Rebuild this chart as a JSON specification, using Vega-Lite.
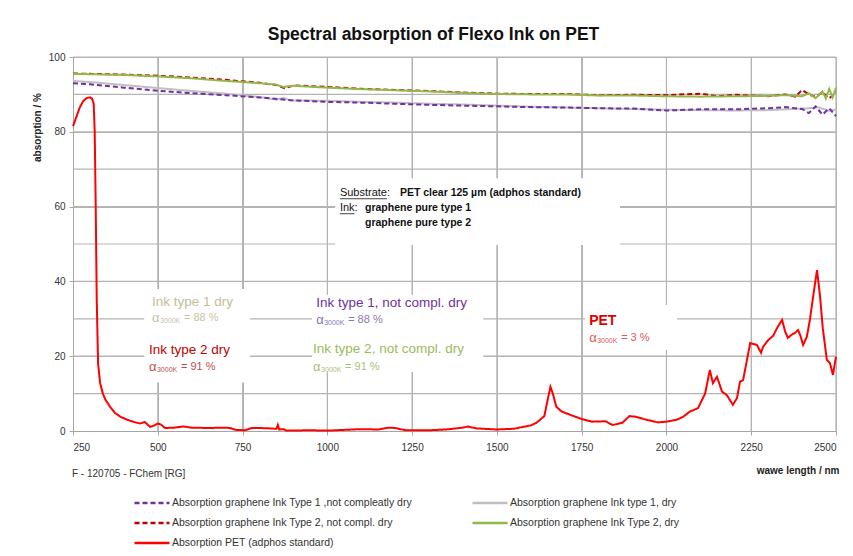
{
  "$schema": "https://vega.github.io/schema/vega-lite/v6.json",
  "width": 763,
  "height": 374,
  "autosize": {"type": "none"},
  "padding": {"left": 73, "top": 57, "right": 17, "bottom": 125},
  "background": "white",
  "title": {"text": "Spectral absorption of Flexo Ink on PET", "fontSize": 17.5, "font": "Liberation Sans", "fontWeight": "bold", "color": "#111111", "offset": 9, "anchor": "middle", "dx": -21},
  "config": {
    "font": "Liberation Sans",
    "view": {"stroke": null},
    "axis": {"grid": true, "gridColor": "#B4B4B4", "gridWidth": 1, "domainColor": "#A6A6A6", "tickColor": "#A6A6A6", "tickSize": 4, "labelFontSize": 10, "labelColor": "#333333", "labelFont": "Liberation Sans", "titleFont": "Liberation Sans", "titleFontSize": 10, "titleFontWeight": "bold", "titleColor": "#222222"}
  },
  "datasets": {
    "gx": [{"nm": 500}, {"nm": 750}, {"nm": 1000}, {"nm": 1250}, {"nm": 1500}, {"nm": 1750}, {"nm": 2000}, {"nm": 2250}, {"nm": 2500}],
    "gy": [{"v": 10}, {"v": 20}, {"v": 30}, {"v": 40}, {"v": 50}, {"v": 60}, {"v": 70}, {"v": 80}, {"v": 90}, {"v": 100}],
    "rects": [
      {"x1": 460, "x2": 772, "y1": 13, "y2": 38},
      {"x1": 955, "x2": 1460, "y1": 15.8, "y2": 36.4},
      {"x1": 1760, "x2": 2031, "y1": 21.7, "y2": 33.7},
      {"x1": 1023, "x2": 1863, "y1": 49.7, "y2": 67.6}
    ],
    "spectra": [
      {"series": "Absorption graphene Ink type 1, dry", "nm": 250, "value": 93.6},
      {"series": "Absorption graphene Ink type 1, dry", "nm": 300, "value": 93.3},
      {"series": "Absorption graphene Ink type 1, dry", "nm": 400, "value": 92.5},
      {"series": "Absorption graphene Ink type 1, dry", "nm": 500, "value": 91.7},
      {"series": "Absorption graphene Ink type 1, dry", "nm": 600, "value": 90.9},
      {"series": "Absorption graphene Ink type 1, dry", "nm": 700, "value": 90.2},
      {"series": "Absorption graphene Ink type 1, dry", "nm": 800, "value": 89.3},
      {"series": "Absorption graphene Ink type 1, dry", "nm": 850, "value": 88.6},
      {"series": "Absorption graphene Ink type 1, dry", "nm": 870, "value": 89.1},
      {"series": "Absorption graphene Ink type 1, dry", "nm": 890, "value": 88.4},
      {"series": "Absorption graphene Ink type 1, dry", "nm": 1000, "value": 88.3},
      {"series": "Absorption graphene Ink type 1, dry", "nm": 1100, "value": 88.0},
      {"series": "Absorption graphene Ink type 1, dry", "nm": 1200, "value": 87.8},
      {"series": "Absorption graphene Ink type 1, dry", "nm": 1300, "value": 87.5},
      {"series": "Absorption graphene Ink type 1, dry", "nm": 1400, "value": 87.3},
      {"series": "Absorption graphene Ink type 1, dry", "nm": 1500, "value": 87.0},
      {"series": "Absorption graphene Ink type 1, dry", "nm": 1600, "value": 86.7},
      {"series": "Absorption graphene Ink type 1, dry", "nm": 1700, "value": 86.5},
      {"series": "Absorption graphene Ink type 1, dry", "nm": 1800, "value": 86.3},
      {"series": "Absorption graphene Ink type 1, dry", "nm": 1900, "value": 86.1},
      {"series": "Absorption graphene Ink type 1, dry", "nm": 2000, "value": 85.9},
      {"series": "Absorption graphene Ink type 1, dry", "nm": 2100, "value": 85.8},
      {"series": "Absorption graphene Ink type 1, dry", "nm": 2200, "value": 85.7},
      {"series": "Absorption graphene Ink type 1, dry", "nm": 2300, "value": 85.8},
      {"series": "Absorption graphene Ink type 1, dry", "nm": 2400, "value": 86.2},
      {"series": "Absorption graphene Ink type 1, dry", "nm": 2450, "value": 86.5},
      {"series": "Absorption graphene Ink type 1, dry", "nm": 2480, "value": 85.6},
      {"series": "Absorption graphene Ink type 1, dry", "nm": 2500, "value": 86.0},

      {"series": "Absorption graphene Ink Type 1 ,not compleatly dry", "nm": 250, "value": 93.0},
      {"series": "Absorption graphene Ink Type 1 ,not compleatly dry", "nm": 300, "value": 92.7},
      {"series": "Absorption graphene Ink Type 1 ,not compleatly dry", "nm": 400, "value": 91.8},
      {"series": "Absorption graphene Ink Type 1 ,not compleatly dry", "nm": 500, "value": 91.0},
      {"series": "Absorption graphene Ink Type 1 ,not compleatly dry", "nm": 600, "value": 90.3},
      {"series": "Absorption graphene Ink Type 1 ,not compleatly dry", "nm": 700, "value": 89.8},
      {"series": "Absorption graphene Ink Type 1 ,not compleatly dry", "nm": 800, "value": 89.2},
      {"series": "Absorption graphene Ink Type 1 ,not compleatly dry", "nm": 900, "value": 88.4},
      {"series": "Absorption graphene Ink Type 1 ,not compleatly dry", "nm": 1000, "value": 88.0},
      {"series": "Absorption graphene Ink Type 1 ,not compleatly dry", "nm": 1100, "value": 87.8},
      {"series": "Absorption graphene Ink Type 1 ,not compleatly dry", "nm": 1200, "value": 87.5},
      {"series": "Absorption graphene Ink Type 1 ,not compleatly dry", "nm": 1300, "value": 87.2},
      {"series": "Absorption graphene Ink Type 1 ,not compleatly dry", "nm": 1400, "value": 87.0},
      {"series": "Absorption graphene Ink Type 1 ,not compleatly dry", "nm": 1500, "value": 86.8},
      {"series": "Absorption graphene Ink Type 1 ,not compleatly dry", "nm": 1600, "value": 86.6},
      {"series": "Absorption graphene Ink Type 1 ,not compleatly dry", "nm": 1700, "value": 86.5},
      {"series": "Absorption graphene Ink Type 1 ,not compleatly dry", "nm": 1800, "value": 86.3},
      {"series": "Absorption graphene Ink Type 1 ,not compleatly dry", "nm": 1900, "value": 86.2},
      {"series": "Absorption graphene Ink Type 1 ,not compleatly dry", "nm": 2000, "value": 85.7},
      {"series": "Absorption graphene Ink Type 1 ,not compleatly dry", "nm": 2100, "value": 86.0},
      {"series": "Absorption graphene Ink Type 1 ,not compleatly dry", "nm": 2200, "value": 86.0},
      {"series": "Absorption graphene Ink Type 1 ,not compleatly dry", "nm": 2300, "value": 86.3},
      {"series": "Absorption graphene Ink Type 1 ,not compleatly dry", "nm": 2350, "value": 86.6},
      {"series": "Absorption graphene Ink Type 1 ,not compleatly dry", "nm": 2400, "value": 86.1},
      {"series": "Absorption graphene Ink Type 1 ,not compleatly dry", "nm": 2420, "value": 85.0},
      {"series": "Absorption graphene Ink Type 1 ,not compleatly dry", "nm": 2440, "value": 86.8},
      {"series": "Absorption graphene Ink Type 1 ,not compleatly dry", "nm": 2460, "value": 84.6},
      {"series": "Absorption graphene Ink Type 1 ,not compleatly dry", "nm": 2480, "value": 86.3},
      {"series": "Absorption graphene Ink Type 1 ,not compleatly dry", "nm": 2500, "value": 84.2},

      {"series": "Absorption graphene Ink Type 2, not compl. dry", "nm": 250, "value": 95.6},
      {"series": "Absorption graphene Ink Type 2, not compl. dry", "nm": 400, "value": 95.3},
      {"series": "Absorption graphene Ink Type 2, not compl. dry", "nm": 500, "value": 95.0},
      {"series": "Absorption graphene Ink Type 2, not compl. dry", "nm": 600, "value": 94.5},
      {"series": "Absorption graphene Ink Type 2, not compl. dry", "nm": 700, "value": 93.9},
      {"series": "Absorption graphene Ink Type 2, not compl. dry", "nm": 800, "value": 93.1},
      {"series": "Absorption graphene Ink Type 2, not compl. dry", "nm": 850, "value": 92.5},
      {"series": "Absorption graphene Ink Type 2, not compl. dry", "nm": 875, "value": 91.6},
      {"series": "Absorption graphene Ink Type 2, not compl. dry", "nm": 900, "value": 92.4},
      {"series": "Absorption graphene Ink Type 2, not compl. dry", "nm": 1000, "value": 92.0},
      {"series": "Absorption graphene Ink Type 2, not compl. dry", "nm": 1100, "value": 91.5},
      {"series": "Absorption graphene Ink Type 2, not compl. dry", "nm": 1200, "value": 91.2},
      {"series": "Absorption graphene Ink Type 2, not compl. dry", "nm": 1300, "value": 90.9},
      {"series": "Absorption graphene Ink Type 2, not compl. dry", "nm": 1400, "value": 90.5},
      {"series": "Absorption graphene Ink Type 2, not compl. dry", "nm": 1500, "value": 90.2},
      {"series": "Absorption graphene Ink Type 2, not compl. dry", "nm": 1600, "value": 90.1},
      {"series": "Absorption graphene Ink Type 2, not compl. dry", "nm": 1700, "value": 90.1},
      {"series": "Absorption graphene Ink Type 2, not compl. dry", "nm": 1800, "value": 89.8},
      {"series": "Absorption graphene Ink Type 2, not compl. dry", "nm": 1900, "value": 89.9},
      {"series": "Absorption graphene Ink Type 2, not compl. dry", "nm": 2000, "value": 89.8},
      {"series": "Absorption graphene Ink Type 2, not compl. dry", "nm": 2100, "value": 90.2},
      {"series": "Absorption graphene Ink Type 2, not compl. dry", "nm": 2150, "value": 89.5},
      {"series": "Absorption graphene Ink Type 2, not compl. dry", "nm": 2200, "value": 89.9},
      {"series": "Absorption graphene Ink Type 2, not compl. dry", "nm": 2300, "value": 89.5},
      {"series": "Absorption graphene Ink Type 2, not compl. dry", "nm": 2350, "value": 90.0},
      {"series": "Absorption graphene Ink Type 2, not compl. dry", "nm": 2380, "value": 89.4},
      {"series": "Absorption graphene Ink Type 2, not compl. dry", "nm": 2400, "value": 91.2},
      {"series": "Absorption graphene Ink Type 2, not compl. dry", "nm": 2420, "value": 90.0},
      {"series": "Absorption graphene Ink Type 2, not compl. dry", "nm": 2440, "value": 89.3},
      {"series": "Absorption graphene Ink Type 2, not compl. dry", "nm": 2460, "value": 90.6},
      {"series": "Absorption graphene Ink Type 2, not compl. dry", "nm": 2480, "value": 88.9},
      {"series": "Absorption graphene Ink Type 2, not compl. dry", "nm": 2500, "value": 90.5},

      {"series": "Absorption graphene Ink Type 2, dry", "nm": 250, "value": 95.5},
      {"series": "Absorption graphene Ink Type 2, dry", "nm": 400, "value": 95.2},
      {"series": "Absorption graphene Ink Type 2, dry", "nm": 500, "value": 94.8},
      {"series": "Absorption graphene Ink Type 2, dry", "nm": 600, "value": 94.3},
      {"series": "Absorption graphene Ink Type 2, dry", "nm": 700, "value": 93.6},
      {"series": "Absorption graphene Ink Type 2, dry", "nm": 800, "value": 93.0},
      {"series": "Absorption graphene Ink Type 2, dry", "nm": 850, "value": 92.6},
      {"series": "Absorption graphene Ink Type 2, dry", "nm": 870, "value": 92.0},
      {"series": "Absorption graphene Ink Type 2, dry", "nm": 900, "value": 92.3},
      {"series": "Absorption graphene Ink Type 2, dry", "nm": 1000, "value": 91.8},
      {"series": "Absorption graphene Ink Type 2, dry", "nm": 1100, "value": 91.4},
      {"series": "Absorption graphene Ink Type 2, dry", "nm": 1200, "value": 91.1},
      {"series": "Absorption graphene Ink Type 2, dry", "nm": 1300, "value": 90.8},
      {"series": "Absorption graphene Ink Type 2, dry", "nm": 1400, "value": 90.4},
      {"series": "Absorption graphene Ink Type 2, dry", "nm": 1500, "value": 90.1},
      {"series": "Absorption graphene Ink Type 2, dry", "nm": 1600, "value": 90.0},
      {"series": "Absorption graphene Ink Type 2, dry", "nm": 1700, "value": 90.0},
      {"series": "Absorption graphene Ink Type 2, dry", "nm": 1800, "value": 89.7},
      {"series": "Absorption graphene Ink Type 2, dry", "nm": 1900, "value": 89.7},
      {"series": "Absorption graphene Ink Type 2, dry", "nm": 2000, "value": 89.5},
      {"series": "Absorption graphene Ink Type 2, dry", "nm": 2100, "value": 89.4},
      {"series": "Absorption graphene Ink Type 2, dry", "nm": 2200, "value": 89.5},
      {"series": "Absorption graphene Ink Type 2, dry", "nm": 2300, "value": 89.6},
      {"series": "Absorption graphene Ink Type 2, dry", "nm": 2350, "value": 89.8},
      {"series": "Absorption graphene Ink Type 2, dry", "nm": 2400, "value": 89.5},
      {"series": "Absorption graphene Ink Type 2, dry", "nm": 2420, "value": 90.3},
      {"series": "Absorption graphene Ink Type 2, dry", "nm": 2440, "value": 89.0},
      {"series": "Absorption graphene Ink Type 2, dry", "nm": 2460, "value": 90.8},
      {"series": "Absorption graphene Ink Type 2, dry", "nm": 2470, "value": 88.9},
      {"series": "Absorption graphene Ink Type 2, dry", "nm": 2480, "value": 91.5},
      {"series": "Absorption graphene Ink Type 2, dry", "nm": 2490, "value": 89.2},
      {"series": "Absorption graphene Ink Type 2, dry", "nm": 2500, "value": 91.8},

      {"series": "Absorption PET (adphos standard)", "nm": 250, "value": 81.5},
      {"series": "Absorption PET (adphos standard)", "nm": 260, "value": 84.0},
      {"series": "Absorption PET (adphos standard)", "nm": 270, "value": 86.5},
      {"series": "Absorption PET (adphos standard)", "nm": 280, "value": 88.2},
      {"series": "Absorption PET (adphos standard)", "nm": 290, "value": 89.0},
      {"series": "Absorption PET (adphos standard)", "nm": 300, "value": 89.2},
      {"series": "Absorption PET (adphos standard)", "nm": 306, "value": 88.9},
      {"series": "Absorption PET (adphos standard)", "nm": 311, "value": 87.5},
      {"series": "Absorption PET (adphos standard)", "nm": 314, "value": 80.0},
      {"series": "Absorption PET (adphos standard)", "nm": 317, "value": 60.0},
      {"series": "Absorption PET (adphos standard)", "nm": 320, "value": 35.0},
      {"series": "Absorption PET (adphos standard)", "nm": 324, "value": 18.0},
      {"series": "Absorption PET (adphos standard)", "nm": 330, "value": 12.8},
      {"series": "Absorption PET (adphos standard)", "nm": 338, "value": 10.0},
      {"series": "Absorption PET (adphos standard)", "nm": 345, "value": 8.5},
      {"series": "Absorption PET (adphos standard)", "nm": 359, "value": 6.5},
      {"series": "Absorption PET (adphos standard)", "nm": 374, "value": 4.8},
      {"series": "Absorption PET (adphos standard)", "nm": 390, "value": 3.8},
      {"series": "Absorption PET (adphos standard)", "nm": 410, "value": 3.0},
      {"series": "Absorption PET (adphos standard)", "nm": 430, "value": 2.4},
      {"series": "Absorption PET (adphos standard)", "nm": 447, "value": 2.0},
      {"series": "Absorption PET (adphos standard)", "nm": 462, "value": 2.4},
      {"series": "Absorption PET (adphos standard)", "nm": 477, "value": 1.1},
      {"series": "Absorption PET (adphos standard)", "nm": 490, "value": 1.5},
      {"series": "Absorption PET (adphos standard)", "nm": 500, "value": 2.0},
      {"series": "Absorption PET (adphos standard)", "nm": 510, "value": 1.7},
      {"series": "Absorption PET (adphos standard)", "nm": 521, "value": 0.8},
      {"series": "Absorption PET (adphos standard)", "nm": 550, "value": 0.9},
      {"series": "Absorption PET (adphos standard)", "nm": 575, "value": 1.2},
      {"series": "Absorption PET (adphos standard)", "nm": 600, "value": 0.9},
      {"series": "Absorption PET (adphos standard)", "nm": 650, "value": 0.8},
      {"series": "Absorption PET (adphos standard)", "nm": 700, "value": 0.9},
      {"series": "Absorption PET (adphos standard)", "nm": 713, "value": 0.8},
      {"series": "Absorption PET (adphos standard)", "nm": 730, "value": 0.3},
      {"series": "Absorption PET (adphos standard)", "nm": 757, "value": 0.2},
      {"series": "Absorption PET (adphos standard)", "nm": 777, "value": 0.8},
      {"series": "Absorption PET (adphos standard)", "nm": 800, "value": 0.8},
      {"series": "Absorption PET (adphos standard)", "nm": 830, "value": 0.7},
      {"series": "Absorption PET (adphos standard)", "nm": 850, "value": 0.6},
      {"series": "Absorption PET (adphos standard)", "nm": 854, "value": 1.6},
      {"series": "Absorption PET (adphos standard)", "nm": 858, "value": 0.4},
      {"series": "Absorption PET (adphos standard)", "nm": 870, "value": 0.5},
      {"series": "Absorption PET (adphos standard)", "nm": 880, "value": 0.1},
      {"series": "Absorption PET (adphos standard)", "nm": 950, "value": 0.2},
      {"series": "Absorption PET (adphos standard)", "nm": 1000, "value": 0.1},
      {"series": "Absorption PET (adphos standard)", "nm": 1050, "value": 0.3},
      {"series": "Absorption PET (adphos standard)", "nm": 1100, "value": 0.5},
      {"series": "Absorption PET (adphos standard)", "nm": 1150, "value": 0.4},
      {"series": "Absorption PET (adphos standard)", "nm": 1180, "value": 0.9},
      {"series": "Absorption PET (adphos standard)", "nm": 1200, "value": 0.8},
      {"series": "Absorption PET (adphos standard)", "nm": 1230, "value": 0.2},
      {"series": "Absorption PET (adphos standard)", "nm": 1300, "value": 0.2},
      {"series": "Absorption PET (adphos standard)", "nm": 1350, "value": 0.4},
      {"series": "Absorption PET (adphos standard)", "nm": 1400, "value": 0.9},
      {"series": "Absorption PET (adphos standard)", "nm": 1414, "value": 1.2},
      {"series": "Absorption PET (adphos standard)", "nm": 1440, "value": 0.7},
      {"series": "Absorption PET (adphos standard)", "nm": 1500, "value": 0.4},
      {"series": "Absorption PET (adphos standard)", "nm": 1550, "value": 0.6},
      {"series": "Absorption PET (adphos standard)", "nm": 1600, "value": 1.5},
      {"series": "Absorption PET (adphos standard)", "nm": 1617, "value": 2.2},
      {"series": "Absorption PET (adphos standard)", "nm": 1640, "value": 4.0},
      {"series": "Absorption PET (adphos standard)", "nm": 1650, "value": 8.5},
      {"series": "Absorption PET (adphos standard)", "nm": 1658, "value": 11.8},
      {"series": "Absorption PET (adphos standard)", "nm": 1665, "value": 10.0},
      {"series": "Absorption PET (adphos standard)", "nm": 1675, "value": 6.5},
      {"series": "Absorption PET (adphos standard)", "nm": 1691, "value": 5.2},
      {"series": "Absorption PET (adphos standard)", "nm": 1720, "value": 4.2},
      {"series": "Absorption PET (adphos standard)", "nm": 1750, "value": 3.2},
      {"series": "Absorption PET (adphos standard)", "nm": 1780, "value": 2.5},
      {"series": "Absorption PET (adphos standard)", "nm": 1820, "value": 2.6},
      {"series": "Absorption PET (adphos standard)", "nm": 1841, "value": 1.6},
      {"series": "Absorption PET (adphos standard)", "nm": 1870, "value": 2.2},
      {"series": "Absorption PET (adphos standard)", "nm": 1891, "value": 4.0},
      {"series": "Absorption PET (adphos standard)", "nm": 1910, "value": 3.8},
      {"series": "Absorption PET (adphos standard)", "nm": 1941, "value": 3.0},
      {"series": "Absorption PET (adphos standard)", "nm": 1975, "value": 2.3},
      {"series": "Absorption PET (adphos standard)", "nm": 2000, "value": 2.5},
      {"series": "Absorption PET (adphos standard)", "nm": 2030, "value": 3.0},
      {"series": "Absorption PET (adphos standard)", "nm": 2049, "value": 3.8},
      {"series": "Absorption PET (adphos standard)", "nm": 2069, "value": 5.2},
      {"series": "Absorption PET (adphos standard)", "nm": 2093, "value": 6.1},
      {"series": "Absorption PET (adphos standard)", "nm": 2114, "value": 10.0},
      {"series": "Absorption PET (adphos standard)", "nm": 2128, "value": 16.3},
      {"series": "Absorption PET (adphos standard)", "nm": 2137, "value": 12.8},
      {"series": "Absorption PET (adphos standard)", "nm": 2149, "value": 14.5},
      {"series": "Absorption PET (adphos standard)", "nm": 2164, "value": 10.5},
      {"series": "Absorption PET (adphos standard)", "nm": 2178, "value": 9.6},
      {"series": "Absorption PET (adphos standard)", "nm": 2196, "value": 7.0},
      {"series": "Absorption PET (adphos standard)", "nm": 2208, "value": 8.8},
      {"series": "Absorption PET (adphos standard)", "nm": 2217, "value": 13.2},
      {"series": "Absorption PET (adphos standard)", "nm": 2226, "value": 13.6},
      {"series": "Absorption PET (adphos standard)", "nm": 2247, "value": 23.5},
      {"series": "Absorption PET (adphos standard)", "nm": 2267, "value": 23.0},
      {"series": "Absorption PET (adphos standard)", "nm": 2279, "value": 20.9},
      {"series": "Absorption PET (adphos standard)", "nm": 2285, "value": 22.5},
      {"series": "Absorption PET (adphos standard)", "nm": 2300, "value": 24.3},
      {"series": "Absorption PET (adphos standard)", "nm": 2315, "value": 25.5},
      {"series": "Absorption PET (adphos standard)", "nm": 2326, "value": 27.5},
      {"series": "Absorption PET (adphos standard)", "nm": 2341, "value": 29.7},
      {"series": "Absorption PET (adphos standard)", "nm": 2350, "value": 26.6},
      {"series": "Absorption PET (adphos standard)", "nm": 2358, "value": 24.9},
      {"series": "Absorption PET (adphos standard)", "nm": 2370, "value": 25.8},
      {"series": "Absorption PET (adphos standard)", "nm": 2379, "value": 26.2},
      {"series": "Absorption PET (adphos standard)", "nm": 2388, "value": 27.0},
      {"series": "Absorption PET (adphos standard)", "nm": 2395, "value": 25.5},
      {"series": "Absorption PET (adphos standard)", "nm": 2403, "value": 23.0},
      {"series": "Absorption PET (adphos standard)", "nm": 2414, "value": 25.2},
      {"series": "Absorption PET (adphos standard)", "nm": 2423, "value": 29.7},
      {"series": "Absorption PET (adphos standard)", "nm": 2432, "value": 35.6},
      {"series": "Absorption PET (adphos standard)", "nm": 2444, "value": 43.0},
      {"series": "Absorption PET (adphos standard)", "nm": 2453, "value": 36.0},
      {"series": "Absorption PET (adphos standard)", "nm": 2461, "value": 27.5},
      {"series": "Absorption PET (adphos standard)", "nm": 2473, "value": 19.0},
      {"series": "Absorption PET (adphos standard)", "nm": 2482, "value": 18.2},
      {"series": "Absorption PET (adphos standard)", "nm": 2491, "value": 15.0},
      {"series": "Absorption PET (adphos standard)", "nm": 2500, "value": 19.9}
    ],
    "heads": [
      {"grp": "t1dry", "label": "Ink type 1 dry", "nm": 483, "v": 34.5},
      {"grp": "t2dry", "label": "Ink type 2 dry", "nm": 474, "v": 21.7},
      {"grp": "t1wet", "label": "Ink type 1, not compl. dry", "nm": 967, "v": 34.2},
      {"grp": "t2wet", "label": "Ink type 2, not compl. dry", "nm": 958, "v": 21.9}
    ],
    "alphas": [
      {"grp": "t1dry", "val": "= 88 %", "nm": 483, "v": 30.2},
      {"grp": "t2dry", "val": "= 91 %", "nm": 474, "v": 17.1},
      {"grp": "t1wet", "val": "= 88 %", "nm": 967, "v": 29.7},
      {"grp": "t2wet", "val": "= 91 %", "nm": 958, "v": 17.1},
      {"grp": "pet", "val": "= 3 %", "nm": 1772, "v": 24.9}
    ]
  },
  "layer": [
    {
      "data": {"name": "gx"},
      "mark": {"type": "rule", "color": "#B4B4B4", "strokeWidth": 1.2},
      "encoding": {
        "x": {"field": "nm", "type": "quantitative", "scale": {"domain": [250, 2500], "nice": false, "zero": false}}
      }
    },
    {
      "data": {"name": "gy"},
      "mark": {"type": "rule", "color": "#B4B4B4", "strokeWidth": 1.2},
      "encoding": {
        "y": {"field": "v", "type": "quantitative", "scale": {"domain": [0, 100], "nice": false}}
      }
    },
    {
      "data": {"name": "rects"},
      "mark": {"type": "rect", "fill": "white"},
      "encoding": {
        "x": {"field": "x1", "type": "quantitative"},
        "x2": {"field": "x2"},
        "y": {"field": "y1", "type": "quantitative"},
        "y2": {"field": "y2"}
      }
    },
    {
      "data": {"name": "spectra"},
      "mark": {"type": "line", "strokeWidth": 2},
      "encoding": {
        "x": {"field": "nm", "type": "quantitative", "scale": {"domain": [250, 2500], "nice": false, "zero": false},
          "axis": {"title": "wawe length / nm", "format": "d", "values": [250, 500, 750, 1000, 1250, 1500, 1750, 2000, 2250, 2500], "labelPadding": 7, "titleAlign": "right", "titleX": 766, "titleY": 39, "titleBaseline": "middle"}},
        "y": {"field": "value", "type": "quantitative", "scale": {"domain": [0, 100], "nice": false},
          "axis": {"title": "absorption / %", "values": [0, 10, 20, 30, 40, 50, 60, 70, 80, 90, 100], "labelPadding": 4, "titleX": -36, "titleY": 70, "titleAlign": "center", "titleBaseline": "middle", "titleAngle": 270}},
        "color": {"field": "series", "type": "nominal",
          "scale": {"domain": ["Absorption graphene Ink Type 1 ,not compleatly dry", "Absorption graphene Ink Type 2, not compl. dry", "Absorption PET (adphos standard)", "Absorption graphene Ink type 1, dry", "Absorption graphene Ink Type 2, dry"],
            "range": ["#7030A0", "#C00000", "#FF0000", "#BFBFBF", "#92B84A"]},
          "legend": {"title": null, "orient": "none", "legendX": 60, "legendY": 436, "columns": 2, "columnPadding": 59, "rowPadding": 0, "clipHeight": 20, "symbolType": "stroke", "symbolSize": 1225, "symbolStrokeWidth": 2.5, "labelFontSize": 10.5, "labelFont": "Liberation Sans", "labelColor": "#333333", "labelOffset": 1, "labelLimit": 400}},
        "strokeDash": {"field": "series", "type": "nominal",
          "scale": {"domain": ["Absorption graphene Ink Type 1 ,not compleatly dry", "Absorption graphene Ink Type 2, not compl. dry", "Absorption PET (adphos standard)", "Absorption graphene Ink type 1, dry", "Absorption graphene Ink Type 2, dry"],
            "range": [[5, 3], [5, 3], [1, 0], [1, 0], [1, 0]]}}
      }
    },
    {
      "data": {"name": "heads"},
      "mark": {"type": "text", "align": "left", "baseline": "middle", "fontSize": 13.5},
      "encoding": {
        "x": {"field": "nm", "type": "quantitative"},
        "y": {"field": "v", "type": "quantitative"},
        "text": {"field": "label"},
        "color": {"condition": [{"test": "datum.grp === 't1dry'", "value": "#C4BD97"}, {"test": "datum.grp === 't2dry'", "value": "#C00000"}, {"test": "datum.grp === 't1wet'", "value": "#7030A0"}], "value": "#9BBB59"}
      }
    },
    {
      "data": {"values": [{"label": "PET", "nm": 1772, "v": 29.4}]},
      "mark": {"type": "text", "align": "left", "baseline": "middle", "fontSize": 14, "fontWeight": "bold", "color": "#E00000"},
      "encoding": {
        "x": {"field": "nm", "type": "quantitative"},
        "y": {"field": "v", "type": "quantitative"},
        "text": {"field": "label"}
      }
    },
    {
      "data": {"name": "alphas"},
      "mark": {"type": "text", "align": "left", "baseline": "middle", "fontSize": 13, "text": "α"},
      "encoding": {
        "x": {"field": "nm", "type": "quantitative"},
        "y": {"field": "v", "type": "quantitative"},
        "color": {"condition": [{"test": "datum.grp === 't1dry'", "value": "#C9C3A6"}, {"test": "datum.grp === 't2dry'", "value": "#C0504D"}, {"test": "datum.grp === 't1wet'", "value": "#8A78B0"}, {"test": "datum.grp === 't2wet'", "value": "#A9C07A"}], "value": "#E05A5A"}
      }
    },
    {
      "data": {"name": "alphas"},
      "mark": {"type": "text", "align": "left", "baseline": "middle", "fontSize": 7, "text": "3000K", "dx": 8, "dy": 3},
      "encoding": {
        "x": {"field": "nm", "type": "quantitative"},
        "y": {"field": "v", "type": "quantitative"},
        "color": {"condition": [{"test": "datum.grp === 't1dry'", "value": "#C9C3A6"}, {"test": "datum.grp === 't2dry'", "value": "#C0504D"}, {"test": "datum.grp === 't1wet'", "value": "#8A78B0"}, {"test": "datum.grp === 't2wet'", "value": "#A9C07A"}], "value": "#E05A5A"}
      }
    },
    {
      "data": {"name": "alphas"},
      "mark": {"type": "text", "align": "left", "baseline": "middle", "fontSize": 11, "dx": 32},
      "encoding": {
        "x": {"field": "nm", "type": "quantitative"},
        "y": {"field": "v", "type": "quantitative"},
        "text": {"field": "val"},
        "color": {"condition": [{"test": "datum.grp === 't1dry'", "value": "#C9C3A6"}, {"test": "datum.grp === 't2dry'", "value": "#C0504D"}, {"test": "datum.grp === 't1wet'", "value": "#8A78B0"}, {"test": "datum.grp === 't2wet'", "value": "#A9C07A"}], "value": "#E05A5A"}
      }
    },
    {
      "data": {"values": [{"label": "Substrate:", "nm": 1037, "v": 63.6}, {"label": "Ink:", "nm": 1037, "v": 59.6}]},
      "mark": {"type": "text", "align": "left", "baseline": "middle", "fontSize": 11, "color": "#111111"},
      "encoding": {
        "x": {"field": "nm", "type": "quantitative"},
        "y": {"field": "v", "type": "quantitative"},
        "text": {"field": "label"}
      }
    },
    {
      "data": {"values": [{"label": "PET clear 125 µm (adphos standard)", "nm": 1214, "v": 63.6}, {"label": "graphene pure type 1", "nm": 1111, "v": 59.6}, {"label": "graphene pure type 2", "nm": 1111, "v": 55.6}]},
      "mark": {"type": "text", "align": "left", "baseline": "middle", "fontSize": 10.5, "fontWeight": "bold", "color": "#111111"},
      "encoding": {
        "x": {"field": "nm", "type": "quantitative"},
        "y": {"field": "v", "type": "quantitative"},
        "text": {"field": "label"}
      }
    },
    {
      "data": {"values": [{"nm": 1037, "nm2": 1176, "v": 62.1}, {"nm": 1037, "nm2": 1080, "v": 58.1}]},
      "mark": {"type": "rule", "color": "#111111", "strokeWidth": 0.8},
      "encoding": {
        "x": {"field": "nm", "type": "quantitative"},
        "x2": {"field": "nm2"},
        "y": {"field": "v", "type": "quantitative"}
      }
    },
    {
      "data": {"values": [{"label": "F - 120705 - FChem [RG]", "nm": 247, "v": -11.5}]},
      "mark": {"type": "text", "align": "left", "baseline": "middle", "fontSize": 10, "color": "#333333", "clip": false},
      "encoding": {
        "x": {"field": "nm", "type": "quantitative"},
        "y": {"field": "v", "type": "quantitative"},
        "text": {"field": "label"}
      }
    }
  ]
}
